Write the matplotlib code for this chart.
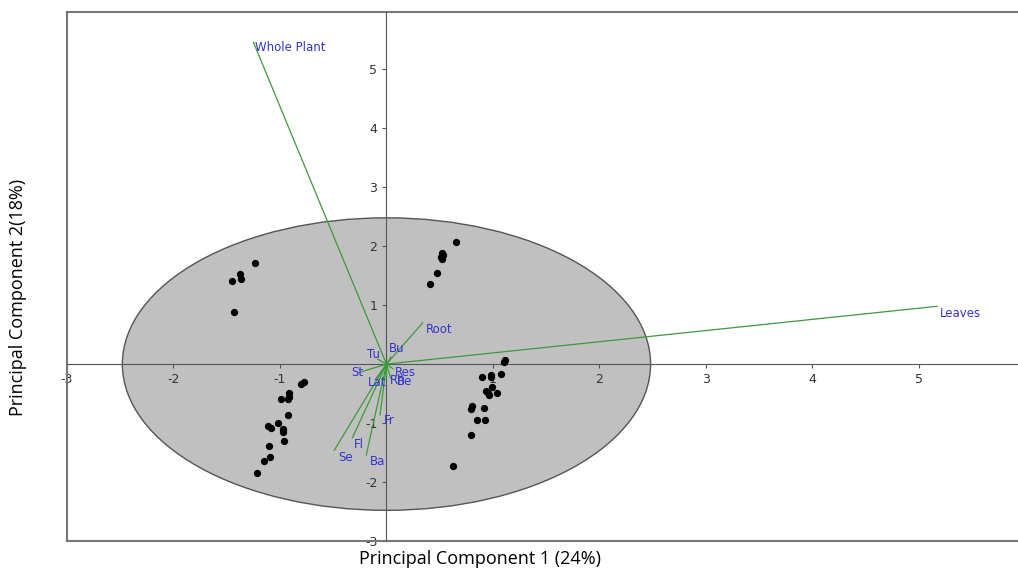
import numpy as np
import matplotlib.pyplot as plt
from matplotlib.patches import Ellipse

plt.rcParams['axes.unicode_minus'] = False

# PCA scores (PC1, PC2)
score_x = [-1.233, -1.374, -1.362, -1.449, -1.43,
           -0.779, -0.798, -0.917, -0.911, -0.923, -0.992, -0.923, -1.023, -1.111,
           -1.080, -0.974, -0.970, -0.964, -1.099, -1.092, -1.146, -1.218,
           0.654, 0.519, 0.535, 0.514, 0.523, 0.479, 0.413,
           1.114, 1.105, 0.898, 0.977, 0.986, 1.077, 0.992, 0.936, 0.955, 0.967,
           1.042, 0.804, 0.792, 0.920, 0.848, 0.927, 0.798, 0.623]
score_y = [1.71, 1.525, 1.44, 1.41, 0.886,
           -0.30, -0.344, -0.497, -0.554, -0.593, -0.598, -0.859, -1.005, -1.046,
           -1.090, -1.102, -1.147, -1.305, -1.390, -1.571, -1.639, -1.842,
           2.063, 1.876, 1.847, 1.808, 1.775, 1.537, 1.356,
           0.068, 0.039, -0.226, -0.215, -0.192, -0.169, -0.384, -0.452, -0.486, -0.525,
           -0.486, -0.712, -0.763, -0.746, -0.949, -0.943, -1.198, -1.729]

# loading vectors
load_names = ["Whole Plant", "Leaves", "Root", "Bu", "Tu", "St", "Res",
              "Lat", "Rh", "Be", "Fr", "Fl", "Se", "Ba"]
load_x = [-1.25, 5.17, 0.34, 0.04, -0.08, -0.25, 0.06,
          -0.10, 0.00, 0.04, -0.06, -0.32, -0.49, -0.19]
load_y = [5.46, 0.98, 0.70, 0.12, 0.08, -0.14, -0.08,
          -0.25, -0.22, -0.24, -0.86, -1.25, -1.46, -1.54]
# label anchors (left aligned)
lab_x = [-1.23, 5.2, 0.37, 0.02, -0.18, -0.33, 0.08,
         -0.17, 0.03, 0.10, -0.02, -0.31, -0.45, -0.16]
lab_y = [5.37, 0.86, 0.59, 0.27, 0.17, -0.15, -0.14,
         -0.31, -0.28, -0.30, -0.95, -1.36, -1.58, -1.66]

ellipse_r = 2.48

fig = plt.figure(figsize=(10.18, 5.72), dpi=100)
ax = fig.add_axes([0.0658, 0.0542, 0.9342, 0.9248])

ax.add_patch(Ellipse((0, 0), 2 * ellipse_r, 2 * ellipse_r, facecolor="#c0c0c0",
                     edgecolor="#555555", lw=1.0, zorder=1))

for i in range(len(load_names)):
    ax.plot([0, load_x[i]], [0, load_y[i]], color="#3c9a3c", lw=0.9, zorder=3)
    ax.text(lab_x[i], lab_y[i], load_names[i], color="#3333cc", fontsize=8.5,
            ha="left", va="center", zorder=4)

ax.scatter(score_x, score_y, s=18, color="black", zorder=5)

ax.set_xlim(-3, 5.93)
ax.set_ylim(-3, 5.97)

for s in ["top", "right"]:
    ax.spines[s].set_visible(False)
for s in ["left", "bottom"]:
    ax.spines[s].set_position("zero")
    ax.spines[s].set_color("#555555")
    ax.spines[s].set_zorder(2)
ax.set_xticks([-3, -2, -1, 1, 2, 3, 4, 5])
ax.set_yticks([-3, -2, -1, 1, 2, 3, 4, 5])
ax.tick_params(direction="out", length=3, labelsize=9, colors="#555555",
               labelcolor="#333333")

# outer frame (no right edge)
ax.plot([0, 0], [0, 1], transform=ax.transAxes, color="#777777", lw=1.5, clip_on=False)
ax.plot([0, 1], [1, 1], transform=ax.transAxes, color="#777777", lw=1.5, clip_on=False)
ax.plot([0, 1], [0, 0], transform=ax.transAxes, color="#777777", lw=1.5, clip_on=False)

fig.text(0.472, 0.022, "Principal Component 1 (24%)", ha="center", va="center",
         fontsize=13, family="Open Sans")
fig.text(0.018, 0.48, "Principal Component 2(18%)", ha="center", va="center",
         rotation=90, fontsize=13, family="Open Sans")

fig.savefig("out.png", dpi=100)
